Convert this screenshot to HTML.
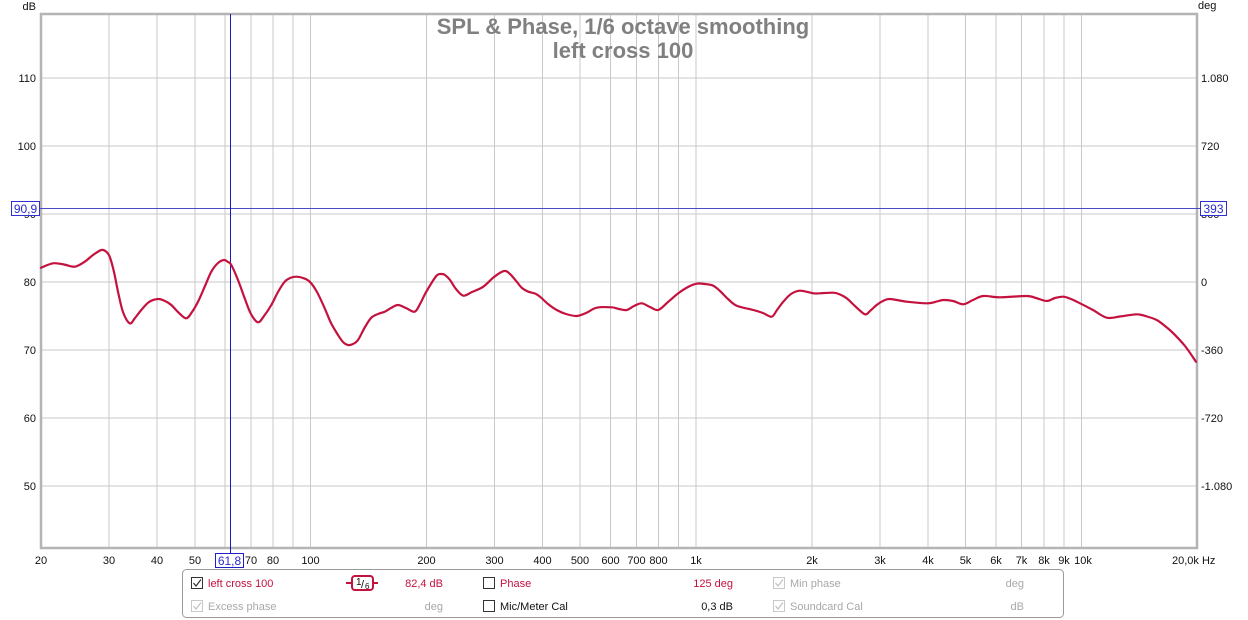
<!DOCTYPE html>
<html><head><meta charset="utf-8"><style>
html,body{margin:0;padding:0;background:#fff;}
svg{display:block;font-family:"Liberation Sans",Arial,sans-serif;}
</style></head><body>
<svg id="s" width="1248" height="620" viewBox="0 0 1248 620" xmlns="http://www.w3.org/2000/svg">
<rect x="0" y="0" width="1248" height="620" fill="#fff"/>
<g stroke="#c8c8c8" stroke-width="1" shape-rendering="crispEdges">
<line x1="109" y1="15" x2="109" y2="547"/>
<line x1="157" y1="15" x2="157" y2="547"/>
<line x1="195" y1="15" x2="195" y2="547"/>
<line x1="225" y1="15" x2="225" y2="547"/>
<line x1="251" y1="15" x2="251" y2="547"/>
<line x1="273" y1="15" x2="273" y2="547"/>
<line x1="293" y1="15" x2="293" y2="547"/>
<line x1="310.5" y1="15" x2="310.5" y2="547"/>
<line x1="426.5" y1="15" x2="426.5" y2="547"/>
<line x1="494.5" y1="15" x2="494.5" y2="547"/>
<line x1="542.5" y1="15" x2="542.5" y2="547"/>
<line x1="580" y1="15" x2="580" y2="547"/>
<line x1="610.5" y1="15" x2="610.5" y2="547"/>
<line x1="636.5" y1="15" x2="636.5" y2="547"/>
<line x1="658.5" y1="15" x2="658.5" y2="547"/>
<line x1="678.5" y1="15" x2="678.5" y2="547"/>
<line x1="696" y1="15" x2="696" y2="547"/>
<line x1="812" y1="15" x2="812" y2="547"/>
<line x1="880" y1="15" x2="880" y2="547"/>
<line x1="928" y1="15" x2="928" y2="547"/>
<line x1="965.5" y1="15" x2="965.5" y2="547"/>
<line x1="996" y1="15" x2="996" y2="547"/>
<line x1="1021.5" y1="15" x2="1021.5" y2="547"/>
<line x1="1044" y1="15" x2="1044" y2="547"/>
<line x1="1064" y1="15" x2="1064" y2="547"/>
<line x1="1081.5" y1="15" x2="1081.5" y2="547"/>
<line x1="42" y1="78" x2="1197" y2="78"/>
<line x1="42" y1="146" x2="1197" y2="146"/>
<line x1="42" y1="214" x2="1197" y2="214"/>
<line x1="42" y1="282" x2="1197" y2="282"/>
<line x1="42" y1="350" x2="1197" y2="350"/>
<line x1="42" y1="418" x2="1197" y2="418"/>
<line x1="42" y1="486" x2="1197" y2="486"/>
</g>
<!-- frame -->
<rect x="41" y="14" width="1156" height="534" fill="none" stroke="#b4b4b4" stroke-width="2.5"/>
<!-- title -->
<g fill="#808080" font-weight="bold" font-size="22" text-anchor="middle">
<text x="623" y="34">SPL &amp; Phase, 1/6 octave smoothing</text>
<text x="623" y="58">left cross 100</text>
</g>
<!-- axis labels -->
<g font-size="11" fill="#111">
<text x="36" y="10" text-anchor="end">dB</text>
<text x="1198" y="9">deg</text>
<g text-anchor="end">
<text x="36" y="82">110</text>
<text x="36" y="150">100</text>
<text x="36" y="218">90</text>
<text x="36" y="286">80</text>
<text x="36" y="354">70</text>
<text x="36" y="422">60</text>
<text x="36" y="490">50</text>
</g>
<g>
<text x="1201" y="82">1.080</text>
<text x="1201" y="150">720</text>
<text x="1201" y="218">360</text>
<text x="1201" y="286">0</text>
<text x="1201" y="354">-360</text>
<text x="1201" y="422">-720</text>
<text x="1201" y="490">-1.080</text>
</g>
<g text-anchor="middle">
<text x="41" y="564">20</text>
<text x="109" y="564">30</text>
<text x="157" y="564">40</text>
<text x="195" y="564">50</text>
<text x="251" y="564">70</text>
<text x="273" y="564">80</text>
<text x="310.5" y="564">100</text>
<text x="426.5" y="564">200</text>
<text x="494.5" y="564">300</text>
<text x="542.5" y="564">400</text>
<text x="580" y="564">500</text>
<text x="610.5" y="564">600</text>
<text x="636.5" y="564">700</text>
<text x="658.5" y="564">800</text>
<text x="696" y="564">1k</text>
<text x="812" y="564">2k</text>
<text x="880" y="564">3k</text>
<text x="928" y="564">4k</text>
<text x="965.5" y="564">5k</text>
<text x="996" y="564">6k</text>
<text x="1021.5" y="564">7k</text>
<text x="1044" y="564">8k</text>
<text x="1064" y="564">9k</text>
<text x="1083" y="564">10k</text>
</g>
<text x="1172" y="564">20,0k Hz</text>
</g>
<!-- cursor lines -->
<line x1="40" y1="208.5" x2="1200" y2="208.5" stroke="#4a4ac8" stroke-width="1"/>
<line x1="230.5" y1="14" x2="230.5" y2="553" stroke="#1818c0" stroke-width="1"/>
<!-- curve -->
<polyline id="curve" fill="none" stroke="#c4123e" stroke-width="2.2" stroke-linejoin="round" stroke-linecap="round" points="41,267.7 53,263.3 64,264.5 74.7,266.7 84.7,261.7 93,255 101.3,250 106,251.5 109.7,256.7 114,272 118,291.7 123,312 129.7,323.3 135,318 141.3,310 149,302 158,299 165,301 171.3,305 179,313 186.3,318.3 192,312 198,301.7 205,286 211.3,271.7 218,263 224,260 228,262 231.3,265 238,280 244.7,298.3 251,314 258,322.3 264,316 271.3,305 278,292 284.7,281.7 290,278 296.3,276.7 303,278 309.7,281.7 317,292 324.7,308.3 331,323 338,335 343,342 348,345 353,344 358,340 365,327 371.3,317.7 378,314 384.7,311.7 391,308 398,305 406,308 414.7,311.7 420,304 426.3,291.7 436.3,276 441.7,274 445,275 450,280 456,289 463.3,295.7 472,292 483.3,286.7 494,277 504,271 510,274 516.7,281.7 522,288 528.3,291.7 535,293.5 540,296.7 548,304 556.7,310 566,314 576.7,316 586,313 596.7,307.7 611.7,307.3 619,309 626.7,310 634,306 641.7,303.3 650,307 658.3,310 668,302 678.3,293.3 688,287 696.7,283.7 705,284 713.3,285.7 720,291 728,299 736.7,305.7 753.3,310 763,313 771.7,316.7 777,310 783.3,301.7 791,294 800,290.7 813.3,293.3 820,293.3 833.3,292.7 840,294.5 846.7,298.3 856,307 865,314.3 870,311 876.7,305 883,301 890,299 906.7,301.7 926.7,303.3 935,302 943.3,300 953,301 963.3,304.3 973,300 983.3,296 1000,297.3 1026.7,296 1036,298 1046.7,301 1055,298 1063.3,296.7 1071,299 1080,303.3 1093,310 1106.7,317.7 1120,316.5 1136.7,314.3 1147,316.5 1156.7,320 1165,326 1173.3,333.3 1185,346 1196,361.7"/>
<!-- cursor boxes -->
<g font-size="12" fill="#2a2ad0" text-anchor="middle">
<rect x="11.5" y="201.5" width="28" height="14" fill="#fff" stroke="#3030d0" stroke-width="1"/>
<text x="25.5" y="213">90,9</text>
<rect x="1200.5" y="201.5" width="26" height="14" fill="#fff" stroke="#3030d0" stroke-width="1"/>
<text x="1213.5" y="213">393</text>
<rect x="215.5" y="553.5" width="28" height="14" fill="#fff" stroke="#2020c8" stroke-width="1"/>
<text x="229.5" y="565">61,8</text>
</g>
<!-- legend -->
<rect x="182.5" y="569.5" width="881" height="48" rx="4" ry="4" fill="#fff" stroke="#9a9a9a" stroke-width="1"/>
<g font-size="11">
<!-- checkboxes -->
<rect x="191.5" y="577.5" width="11" height="11" fill="#fff" stroke="#333"/>
<path d="M193.5 583 L196 586 L201 579.5" fill="none" stroke="#333" stroke-width="1.2"/>
<rect x="191.5" y="600.5" width="11" height="11" fill="#fff" stroke="#c8c8c8"/>
<path d="M193.5 606 L196 609 L201 602.5" fill="none" stroke="#c0c0c0" stroke-width="1.2"/>
<rect x="483.5" y="577.5" width="11" height="11" fill="#fff" stroke="#333"/>
<rect x="483.5" y="600.5" width="11" height="11" fill="#fff" stroke="#333"/>
<rect x="773.5" y="577.5" width="11" height="11" fill="#fff" stroke="#c8c8c8"/>
<path d="M775.5 583 L778 586 L783 579.5" fill="none" stroke="#c0c0c0" stroke-width="1.2"/>
<rect x="773.5" y="600.5" width="11" height="11" fill="#fff" stroke="#c8c8c8"/>
<path d="M775.5 606 L778 609 L783 602.5" fill="none" stroke="#c0c0c0" stroke-width="1.2"/>
<text x="208" y="587" fill="#c4123e">left cross 100</text>
<text x="208" y="610" fill="#a8a8a8">Excess phase</text>
<text x="443" y="587" fill="#c4123e" text-anchor="end">82,4 dB</text>
<text x="443" y="610" fill="#a8a8a8" text-anchor="end">deg</text>
<text x="500" y="587" fill="#c4123e">Phase</text>
<text x="500" y="610" fill="#111">Mic/Meter Cal</text>
<text x="733" y="587" fill="#c4123e" text-anchor="end">125 deg</text>
<text x="733" y="610" fill="#111" text-anchor="end">0,3 dB</text>
<text x="790" y="587" fill="#a8a8a8">Min phase</text>
<text x="790" y="610" fill="#a8a8a8">Soundcard Cal</text>
<text x="1024" y="587" fill="#a8a8a8" text-anchor="end">deg</text>
<text x="1024" y="610" fill="#a8a8a8" text-anchor="end">dB</text>
<!-- smoothing badge -->
<line x1="346" y1="583" x2="378" y2="583" stroke="#c4123e" stroke-width="2"/>
<rect x="352" y="576" width="21" height="14" rx="3" ry="3" fill="#fff" stroke="#c4123e" stroke-width="2"/>
<text x="356" y="585" font-size="10" fill="#111">1</text>
<text x="361" y="588" font-size="11" fill="#111">/</text>
<text x="365" y="589" font-size="8" fill="#111">6</text>
</g>
</svg>
<script>
(function(){
var pl=document.getElementById('curve');
if(!pl)return;
var pts=pl.getAttribute('points').trim().split(/\s+/).map(function(p){var a=p.split(',');return [parseFloat(a[0]),parseFloat(a[1])];});
var d='M'+pts[0][0]+' '+pts[0][1];
for(var i=0;i<pts.length-1;i++){
var p0=pts[i-1]||pts[i],p1=pts[i],p2=pts[i+1],p3=pts[i+2]||p2;
var c1x=p1[0]+(p2[0]-p0[0])/6,c1y=p1[1]+(p2[1]-p0[1])/6;
var c2x=p2[0]-(p3[0]-p1[0])/6,c2y=p2[1]-(p3[1]-p1[1])/6;
d+=' C'+c1x.toFixed(2)+' '+c1y.toFixed(2)+' '+c2x.toFixed(2)+' '+c2y.toFixed(2)+' '+p2[0]+' '+p2[1];
}
var ns='http://www.w3.org/2000/svg';
var path=document.createElementNS(ns,'path');
path.setAttribute('d',d);
['fill','stroke','stroke-width','stroke-linejoin','stroke-linecap'].forEach(function(a){path.setAttribute(a,pl.getAttribute(a));});
pl.parentNode.replaceChild(path,pl);
})();
</script>
</body></html>
